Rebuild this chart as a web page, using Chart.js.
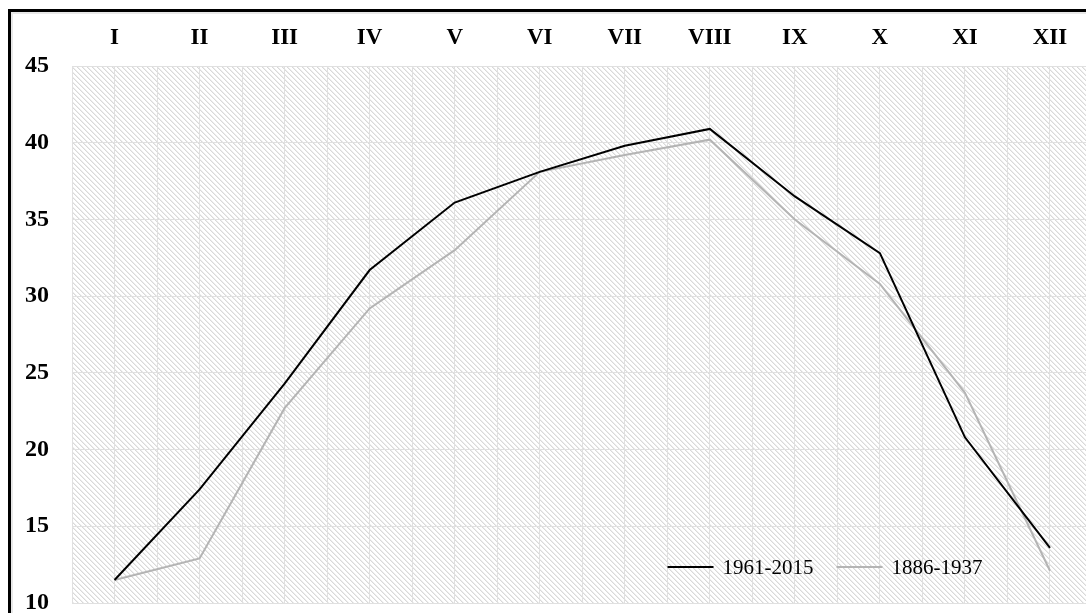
<!DOCTYPE html>
<html>
<head>
<meta charset="utf-8">
<script src="https://cdn.jsdelivr.net/npm/chart.js@4.4.1/dist/chart.umd.min.js"></script>
<style>
  html, body { margin: 0; padding: 0; width: 1086px; height: 613px; overflow: hidden; background: #fff; }
  #frame { position: absolute; left: 8px; top: 9px; width: 1120px; height: 640px; border: 3px solid #000; box-shadow: inset 0 0 0 2px #e8e8e8; box-sizing: border-box; }
  #wrap { position: absolute; left: 0; top: 0; width: 1100px; height: 620px; }
</style>
</head>
<body>
<div id="frame"></div>
<div id="wrap"><canvas id="c" width="1100" height="620"></canvas></div>
<script>
const months = ['I','II','III','IV','V','VI','VII','VIII','IX','X','XI','XII'];
const seriesRecentLabel = '1961-2015';
const seriesRecent = [11.5, 17.4, 24.3, 31.7, 36.1, 38.1, 39.8, 40.9, 36.5, 32.8, 20.8, 13.6];
const seriesOldLabel = '1886-1937';
const seriesOld = [11.5, 12.9, 22.7, 29.2, 33.0, 38.1, 39.2, 40.2, 35.0, 30.8, 23.7, 12.1];
const yTicks = [10, 15, 20, 25, 30, 35, 40, 45];

const FONT = "'Liberation Serif', 'Times New Roman', serif";

function makeHatch() {
  const s = 5;
  const c = document.createElement('canvas');
  c.width = s; c.height = s;
  const g = c.getContext('2d');
  g.fillStyle = '#ffffff';
  g.fillRect(0, 0, s, s);
  for (let y = 0; y < s; y++) {
    for (let x = 0; x < s; x++) {
      const d = ((x - y) % s + s) % s;
      if (d === 0) { g.fillStyle = '#d9d9d9'; g.fillRect(x, y, 1, 1); }
      else if (d === 1) { g.fillStyle = '#ededed'; g.fillRect(x, y, 1, 1); }
    }
  }
  return c;
}

const hatchPlugin = {
  id: 'hatch',
  beforeDraw(chart) {
    const { ctx, chartArea: a } = chart;
    const pat = ctx.createPattern(makeHatch(), 'repeat');
    ctx.save();
    ctx.fillStyle = pat;
    ctx.fillRect(a.left, a.top, a.right - a.left, a.bottom - a.top);
    ctx.restore();
  }
};

const legendPlugin = {
  id: 'innerLegend',
  afterDatasetsDraw(chart) {
    const { ctx, chartArea: a } = chart;
    ctx.save();
    ctx.font = '21px ' + FONT;
    ctx.textBaseline = 'middle';
    const lineLen = 46, gapText = 9, gapItem = 23;
    const items = chart.data.datasets.map(ds => ({ label: ds.label, color: ds.borderColor, w: ctx.measureText(ds.label).width }));
    let total = 0;
    items.forEach((it, i) => { total += lineLen + gapText + it.w + (i ? gapItem : 0); });
    let x = a.right - 110 - total;
    const y = a.bottom - 36;
    items.forEach(it => {
      ctx.strokeStyle = it.color;
      ctx.lineWidth = 2;
      ctx.beginPath();
      ctx.moveTo(x, y);
      ctx.lineTo(x + lineLen, y);
      ctx.stroke();
      ctx.fillStyle = '#000';
      ctx.fillText(it.label, x + lineLen + gapText, y + 1);
      x += lineLen + gapText + it.w + gapItem;
    });
    ctx.restore();
  }
};

const toPoints = arr => arr.map((v, i) => ({ x: i, y: v }));

new Chart(document.getElementById('c'), {
  type: 'line',
  data: {
    datasets: [
      { label: seriesRecentLabel, data: toPoints(seriesRecent), borderColor: '#000000', borderWidth: 2, pointRadius: 0, tension: 0, fill: false },
      { label: seriesOldLabel, data: toPoints(seriesOld), borderColor: '#b4b4b4', borderWidth: 2, pointRadius: 0, tension: 0, fill: false }
    ]
  },
  options: {
    responsive: false,
    animation: false,
    layout: { padding: { left: 0, top: 0, right: 7.5, bottom: 17 } },
    plugins: { legend: { display: false }, tooltip: { enabled: false }, title: { display: false } },
    scales: {
      x: {
        type: 'linear',
        position: 'top',
        min: -0.5,
        max: 11.5,
        afterFit(s) { s.height = 66; s.paddingLeft = 0; s.paddingRight = 0; s.paddingTop = 0; s.paddingBottom = 0; },
        afterBuildTicks(s) {
          const t = [];
          for (let v = -0.5; v <= 11.5001; v += 0.5) t.push({ value: v });
          s.ticks = t;
        },
        ticks: {
          autoSkip: false,
          maxRotation: 0,
          padding: 14,
          color: '#000',
          font: { family: FONT, size: 23, weight: 'bold' },
          callback: v => (Number.isInteger(v) && v >= 0 && v < months.length) ? months[v] : ''
        },
        grid: { color: '#e0e0e0', lineWidth: 1, drawTicks: false },
        border: { display: false }
      },
      y: {
        min: 10,
        max: 45,
        afterFit(s) { s.width = 72; s.paddingTop = 0; s.paddingBottom = 0; s.paddingLeft = 0; s.paddingRight = 0; },
        afterBuildTicks(s) { s.ticks = yTicks.map(v => ({ value: v })); },
        ticks: {
          padding: 23,
          color: '#000',
          font: { family: FONT, size: 24, weight: 'bold' }
        },
        grid: { color: '#e0e0e0', lineWidth: 1, drawTicks: false },
        border: { display: true, color: '#e0e0e0' }
      }
    }
  },
  plugins: [hatchPlugin, legendPlugin]
});
</script>
</body>
</html>
